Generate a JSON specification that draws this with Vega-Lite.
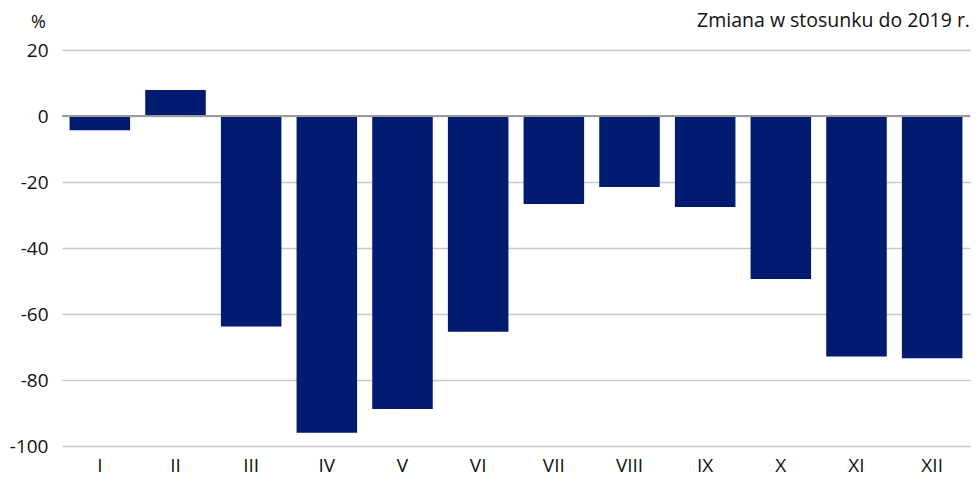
{
  "$schema": "https://vega.github.io/schema/vega-lite/v6.json",
  "width": 908,
  "height": 396,
  "autosize": "none",
  "padding": {"left": 62, "top": 50, "right": 9, "bottom": 31},
  "background": "white",
  "config": {
    "view": {"stroke": null},
    "font": "Open Sans"
  },
  "title": {
    "text": "Zmiana w stosunku do 2019 r.",
    "anchor": "end",
    "frame": "group",
    "orient": "top",
    "offset": 0,
    "dy": 18,
    "fontSize": 19.5,
    "fontWeight": "normal",
    "color": "#111111",
    "font": "Open Sans"
  },
  "data": {
    "values": [
      {"m": "I", "v": -4.3},
      {"m": "II", "v": 7.9},
      {"m": "III", "v": -63.8},
      {"m": "IV", "v": -96.0},
      {"m": "V", "v": -88.8},
      {"m": "VI", "v": -65.4},
      {"m": "VII", "v": -26.7},
      {"m": "VIII", "v": -21.5},
      {"m": "IX", "v": -27.6},
      {"m": "X", "v": -49.4},
      {"m": "XI", "v": -72.9},
      {"m": "XII", "v": -73.4}
    ]
  },
  "layer": [
    {
      "mark": {"type": "bar", "color": "#001b70"},
      "encoding": {
        "x": {
          "field": "m",
          "type": "nominal",
          "sort": null,
          "scale": {"paddingInner": 0.2, "paddingOuter": 0.1},
          "axis": {
            "title": null,
            "labelAngle": 0,
            "ticks": false,
            "domain": false,
            "labelPadding": 10,
            "labelFontSize": 19,
            "labelColor": "#111111",
            "labelFont": "Open Sans"
          }
        },
        "y": {
          "field": "v",
          "type": "quantitative",
          "scale": {"domain": [-100, 20], "nice": false},
          "axis": {
            "values": [-100, -80, -60, -40, -20, 0, 20],
            "labelExpr": "'' + datum.value",
            "title": "%",
            "titleAngle": 0,
            "titleX": -24,
            "titleY": -28,
            "titleFontSize": 18,
            "titleFontWeight": "normal",
            "titleColor": "#111111",
            "titleAlign": "center",
            "titleBaseline": "middle",
            "titleFont": "Open Sans",
            "ticks": false,
            "domain": false,
            "labelPadding": 14,
            "labelFontSize": 19,
            "labelColor": "#111111",
            "labelFont": "Open Sans",
            "gridColor": "#c8c8c8",
            "gridWidth": 1.5
          }
        }
      }
    },
    {
      "data": {"values": [{"z": 0}]},
      "mark": {"type": "rule", "color": "#9a9a9a", "strokeWidth": 2},
      "encoding": {"y": {"field": "z", "type": "quantitative"}}
    }
  ]
}
